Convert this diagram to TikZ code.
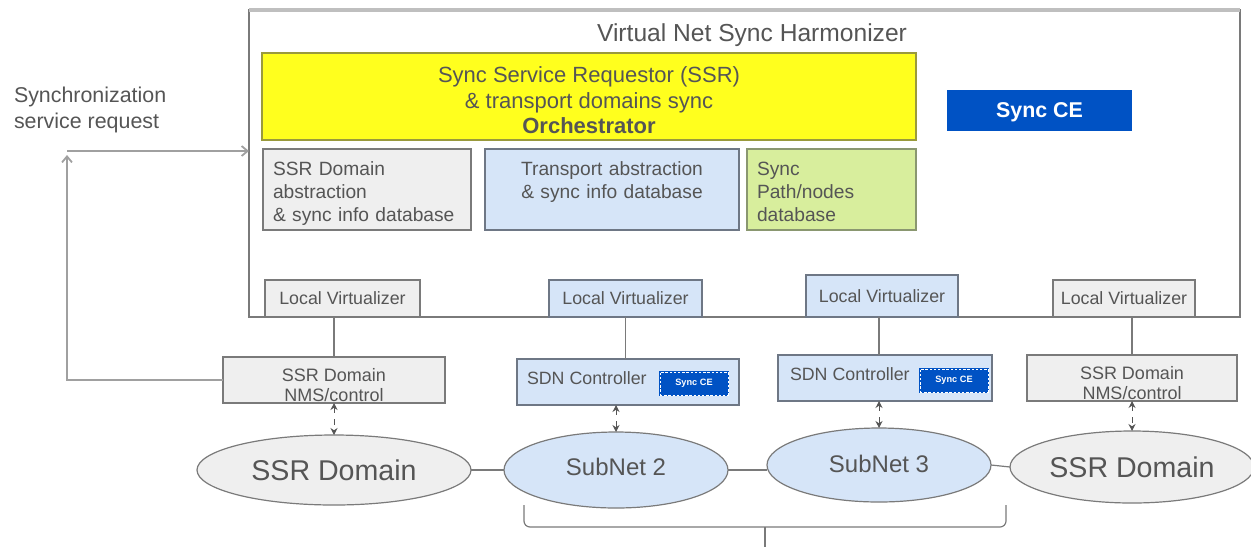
\documentclass[tikz,border=0pt]{standalone}
\usepackage{fontspec}
\setmainfont{Liberation Sans}
\usetikzlibrary{arrows.meta,shapes.geometric}

\definecolor{edge}{HTML}{7A7A7A}
\definecolor{softedge}{HTML}{A0A0A0}
\definecolor{ink}{HTML}{555555}
\definecolor{greyfill}{HTML}{EFEFEF}
\definecolor{bluefill}{HTML}{D6E5F8}
\definecolor{blueedge}{HTML}{6E7785}
\definecolor{yellowfill}{HTML}{FFFF1E}
\definecolor{yellowedge}{HTML}{9A9A3C}
\definecolor{greenfill}{HTML}{D8EE9D}
\definecolor{greenedge}{HTML}{8A9770}
\definecolor{ceblue}{HTML}{0052C4}

\newcommand{\fs}[2]{\fontsize{#1}{#2}\selectfont}
% invisible strut that pushes a centred text block down a little
\newcommand{\topstrut}[1]{\rule{0pt}{#1}}

\tikzset{
  box/.style={draw=edge, line width=0.7pt, inner sep=0pt, outer sep=0pt,
              anchor=north west, text=ink},
  greybox/.style={box, fill=greyfill},
  bluebox/.style={box, fill=bluefill, draw=blueedge},
  greenbox/.style={box, fill=greenfill, draw=greenedge},
  virt/.style={font=\fs{8.9}{10}},
  lbl/.style={text=ink, inner sep=0pt, outer sep=0pt},
  cloud/.style={ellipse, draw=edge, line width=0.6pt, inner sep=0pt, outer sep=0pt, text=ink},
  smallce/.style={box, fill=ceblue, draw=ceblue, line width=1pt, text=white,
                  font=\bfseries\fs{4.6}{5},
                  postaction={draw=white, line width=0.4pt, dash pattern=on 1.2pt off 0.9pt}},
  link/.style={draw=edge, line width=0.6pt},
  ctl/.style={draw=ink, line width=0.5pt, dashed,
              {Stealth[length=3.5pt,width=3.5pt]}-{Stealth[length=3.5pt,width=3.5pt]}},
  req/.style={draw=softedge, line width=0.9pt, -{Straight Barb[length=3pt,width=5pt]}}
}

\begin{document}
\begin{tikzpicture}[x=0.5pt, y=-0.5pt]
  \useasboundingbox (0,0) rectangle (1251,547);

  % harmonizer frame
  \node[box, draw=edge, line width=0.6pt, minimum width=495.5pt, minimum height=153.5pt] (vnsh) at (249,10) {};
  \draw[draw=lightgray, line width=2pt] (vnsh.north west) -- (vnsh.north east);
  \node[lbl, font=\fs{12.3}{14}] (title) at (752,35) {Virtual Net Sync Harmonizer};

  % orchestrator and databases
  \node[box, fill=yellowfill, draw=yellowedge, minimum width=327pt, minimum height=43.5pt,
        align=center, font=\fs{11}{12.75}] (orch) at (262,53)
        {\topstrut{12pt}Sync Service Requestor (SSR)\\ \& transport domains sync\\ \textbf{Orchestrator}};
  \node[box, fill=ceblue, draw=ceblue, text=white, font=\bfseries\fs{10.7}{12},
        minimum width=91.5pt, minimum height=19.5pt] (ce) at (948,91) {\topstrut{9pt}Sync CE};

  \node[greybox, minimum width=104pt, minimum height=40.5pt, text width=94pt, align=left,
        font=\fs{9.6}{11.5}] (ssrdb) at (263,149)
        {\topstrut{11pt}SSR Domain\\ abstraction\\ \& sync info database};
  \node[bluebox, minimum width=127pt, minimum height=40.5pt, text width=120pt, align=center,
        font=\fs{9.6}{11.5}] (trdb) at (485,149)
        {\topstrut{9pt}Transport abstraction\\ \& sync info database\\ \mbox{}};
  \node[greenbox, minimum width=84.5pt, minimum height=40.5pt, text width=74.5pt, align=left,
        font=\fs{9.6}{11.5}] (pathdb) at (747,149)
        {\topstrut{9pt}Sync\\ Path/nodes\\ database};

  % local virtualizers
  \node[greybox, virt, minimum width=77.5pt, minimum height=18.5pt] (lv1) at (265,280) {Local Virtualizer};
  \node[bluebox, virt, minimum width=76.5pt, minimum height=18.5pt] (lv2) at (549,280) {Local Virtualizer};
  \node[bluebox, virt, minimum width=76pt, minimum height=21pt] (lv3) at (806,275) {Local Virtualizer};
  \node[greybox, virt, minimum width=71pt, minimum height=18.5pt] (lv4) at (1053,280) {Local Virtualizer};

  % domain controllers
  \node[greybox, minimum width=111pt, minimum height=23pt] (nmsL) at (223,357) {};
  \node[lbl, align=center, font=\fs{9}{10}] (nmsLt) at ([yshift=-2.5pt]nmsL.center) {SSR Domain\\ NMS/control};
  \node[bluebox, minimum width=111pt, minimum height=23pt] (sdn1) at (517,359) {};
  \node[lbl, anchor=west, font=\fs{8.9}{10}] (sdn1t) at ([xshift=5pt,yshift=2pt]sdn1.west) {SDN Controller};
  \node[smallce, minimum width=34pt, minimum height=11.5pt] (sce1) at (660,372) {Sync CE};
  \node[bluebox, minimum width=107pt, minimum height=23pt] (sdn2) at (778,355) {};
  \node[lbl, anchor=west, font=\fs{8.9}{10}] (sdn2t) at ([xshift=6pt,yshift=2pt]sdn2.west) {SDN Controller};
  \node[smallce, minimum width=34pt, minimum height=11.5pt] (sce2) at (920,369) {Sync CE};
  \node[greybox, minimum width=105pt, minimum height=23pt] (nmsR) at (1027,355) {};
  \node[lbl, align=center, font=\fs{9}{10}] (nmsRt) at ([yshift=-2.5pt]nmsR.center) {SSR Domain\\ NMS/control};

  % network domains
  \node[cloud, fill=greyfill, minimum width=137pt, minimum height=35pt, font=\fs{14.3}{16}] (ellL) at (334,470) {SSR Domain};
  \node[cloud, fill=bluefill, minimum width=112pt, minimum height=38pt, font=\fs{12}{14}] (sub2) at (616,470) {\raisebox{3pt}{SubNet 2}};
  \node[cloud, fill=bluefill, minimum width=112pt, minimum height=37pt, font=\fs{12}{14}] (sub3) at (879,465) {\raisebox{1.5pt}{SubNet 3}};
  \node[cloud, fill=greyfill, minimum width=122pt, minimum height=36pt, font=\fs{14.3}{16}] (ellR) at (1132,467) {SSR Domain};

  % virtualizer to controller links
  \draw[link] (nmsL.north) -- (nmsL.north |- lv1.south);
  \draw[link] (lv2.south) -- (lv2.south |- sdn1.north);
  \draw[link] (sub3.north |- lv3.south) -- (sub3.north |- sdn2.north);
  \draw[link] (nmsR.north) -- (nmsR.north |- lv4.south);

  % controller to domain control links
  \draw[ctl] (nmsL.south) -- (ellL.north);
  \draw[ctl] (sub2.north |- sdn1.south) -- (sub2.north);
  \draw[ctl] (sub3.north |- sdn2.south) -- (sub3.north);
  \draw[ctl] (nmsR.south) -- (ellR.north);

  % domain chain
  \draw[link] (ellL.east) -- (sub2.west);
  \draw[link] (sub2.east) -- (sub2.east -| sub3.west);
  \draw[link] (sub3.east) -- (ellR.west);

  % synchronization service request loop
  \node[lbl, align=left, anchor=north west, font=\fs{10.7}{13}] (reqt) at (14,87) {Synchronization\\ service request};
  \coordinate (corner) at (67,151);
  \draw[req] (nmsL.west) -| ([yshift=-2pt]corner);
  \draw[req] (corner) -- (corner -| vnsh.west);

  % brace under the transport subnets
  \coordinate (brL) at (524,505);
  \coordinate (brR) at (1006,505);
  \coordinate (brM) at (765,527);
  \coordinate (brTip) at (765,547);
  \draw[draw=edge, line width=0.6pt, rounded corners=3pt]
    (brL) -- (brL |- brM) -- (brR |- brM) -- (brR);
  \draw[draw=edge, line width=0.6pt] (brM) -- (brTip);
\end{tikzpicture}
\end{document}
